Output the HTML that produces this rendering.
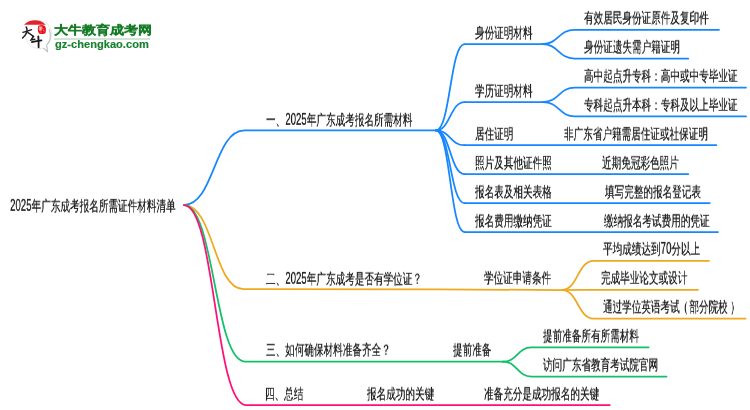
<!DOCTYPE html>
<html><head><meta charset="utf-8"><style>
html,body{margin:0;padding:0;background:#fff;width:750px;height:410px;overflow:hidden;position:relative}
.t{position:absolute;white-space:nowrap;font-family:"Liberation Sans",sans-serif;font-size:16px;line-height:20px;color:#222;font-weight:500;text-shadow:0.25px 0 0 #222;transform:scale(0.6,0.92);transform-origin:0 0;will-change:transform}
.d{display:inline-block;transform:scaleY(1.12);transform-origin:0 15.5px}
svg.lines{position:absolute;left:0;top:0}
svg.lines path{fill:none;stroke-width:1.75;stroke-linecap:round}
</style></head><body>
<svg class="lines" width="750" height="410" viewBox="0 0 750 410">
<path d="M542.5,44.1 C558.5,44.1 558.5,29.8 574.5,29.8 L719,29.8" stroke="#1787ff"/>
<path d="M542.5,44.1 C558.5,44.1 558.5,58.6 574.5,58.6 L688.3,58.6" stroke="#1787ff"/>
<path d="M543,102.0 C559.0,102.0 559.0,87.6 575,87.6 L746,87.6" stroke="#1787ff"/>
<path d="M543,102.0 C559.0,102.0 559.0,116.4 575,116.4 L746,116.4" stroke="#1787ff"/>
<path d="M464.5,44.1 L542.5,44.1" stroke="#1787ff"/>
<path d="M464.5,102.0 L543,102.0" stroke="#1787ff"/>
<path d="M464.5,145.2 L716.3,145.2" stroke="#1787ff"/>
<path d="M464.5,174.1 L688.3,174.1" stroke="#1787ff"/>
<path d="M464.5,203.0 L709.8,203.0" stroke="#1787ff"/>
<path d="M464.5,232.0 L718.0,232.0" stroke="#1787ff"/>
<path d="M436,130.4 C450.25,130.4 450.25,44.1 464.5,44.1" stroke="#1787ff"/>
<path d="M436,130.4 C450.25,130.4 450.25,102.0 464.5,102.0" stroke="#1787ff"/>
<path d="M436,130.4 C450.25,130.4 450.25,145.2 464.5,145.2" stroke="#1787ff"/>
<path d="M436,130.4 C450.25,130.4 450.25,174.1 464.5,174.1" stroke="#1787ff"/>
<path d="M436,130.4 C450.25,130.4 450.25,203.0 464.5,203.0" stroke="#1787ff"/>
<path d="M436,130.4 C450.25,130.4 450.25,232.0 464.5,232.0" stroke="#1787ff"/>
<path d="M184,205 C214.25,205 214.25,130.4 244.5,130.4 L436,130.4" stroke="#1787ff"/>
<path d="M562,290.0 C577.75,290.0 577.75,260.8 593.5,260.8 L709.0,260.8" stroke="#f0a81e"/>
<path d="M562,290.0 C577.75,290.0 577.75,289.8 593.5,289.8 L698.0,289.8" stroke="#f0a81e"/>
<path d="M562,290.0 C577.75,290.0 577.75,318.5 593.5,318.5 L745.6,318.5" stroke="#f0a81e"/>
<path d="M184,205 C213.75,205 213.75,289.1 243.5,289.1 L437,289.4 L562,290.0" stroke="#f0a81e"/>
<path d="M503,361.7 C517.25,361.7 517.25,347.4 531.5,347.4 L648.6,347.4" stroke="#12c06a"/>
<path d="M503,361.7 C517.25,361.7 517.25,376.5 531.5,376.5 L666.5,376.5" stroke="#12c06a"/>
<path d="M184,205 C214.5,205 214.5,361.5 245,361.5 L503,361.7" stroke="#12c06a"/>
<path d="M184,205 C215.0,205 215.0,405.1 246,405.1 L609.8,405.1" stroke="#ff1075"/>
</svg>
<div class="t" style="left:10.00px;top:196.80px"><span class="d">2025</span>年广东成考报名所需证件材料清单</div>
<div class="t" style="left:265.50px;top:110.70px">一、<span class="d">2025</span>年广东成考报名所需材料</div>
<div class="t" style="left:474.50px;top:23.60px">身份证明材料</div>
<div class="t" style="left:584.00px;top:9.30px">有效居民身份证原件及复印件</div>
<div class="t" style="left:584.00px;top:38.10px">身份证遗失需户籍证明</div>
<div class="t" style="left:474.50px;top:81.50px">学历证明材料</div>
<div class="t" style="left:583.90px;top:67.10px">高中起点升专科：高中或中专毕业证</div>
<div class="t" style="left:583.90px;top:95.90px">专科起点升本科：专科及以上毕业证</div>
<div class="t" style="left:475.20px;top:124.70px">居住证明</div>
<div class="t" style="left:564.20px;top:124.70px">非广东省户籍需居住证或社保证明</div>
<div class="t" style="left:475.20px;top:153.60px">照片及其他证件照</div>
<div class="t" style="left:602.00px;top:153.60px">近期免冠彩色照片</div>
<div class="t" style="left:475.20px;top:182.50px">报名表及相关表格</div>
<div class="t" style="left:604.90px;top:182.50px">填写完整的报名登记表</div>
<div class="t" style="left:475.20px;top:211.50px">报名费用缴纳凭证</div>
<div class="t" style="left:603.80px;top:211.50px">缴纳报名考试费用的凭证</div>
<div class="t" style="left:266.20px;top:269.90px">二、<span class="d">2025</span>年广东成考是否有学位证？</div>
<div class="t" style="left:483.50px;top:269.20px">学位证申请条件</div>
<div class="t" style="left:602.50px;top:240.30px">平均成绩达到<span class="d">70</span>分以上</div>
<div class="t" style="left:601.40px;top:269.30px">完成毕业论文或设计</div>
<div class="t" style="left:602.50px;top:298.00px">通过学位英语考试<span style="position:relative;left:-2px">（</span>部分院校<span style="position:relative;left:4px">）</span></div>
<div class="t" style="left:265.80px;top:341.00px">三、如何确保材料准备齐全？</div>
<div class="t" style="left:452.50px;top:341.00px">提前准备</div>
<div class="t" style="left:543.00px;top:326.90px">提前准备所有所需材料</div>
<div class="t" style="left:543.00px;top:356.00px">访问广东省教育考试院官网</div>
<div class="t" style="left:265.20px;top:384.60px">四、总结</div>
<div class="t" style="left:366.60px;top:384.60px">报名成功的关键</div>
<div class="t" style="left:484.40px;top:384.60px">准备充分是成功报名的关键</div>
<svg style="position:absolute;left:0;top:0" width="160" height="60" viewBox="0 0 160 60">
<path d="M35.6,20.6 A13.9,13.9 0 1 0 43.4,48.2 L47.6,51.8 L46.6,45.2 A13.9,13.9 0 0 0 35.6,20.6 Z" fill="#fff" stroke="#e2e2e2" stroke-width="0.8"/>
<path d="M48.9,29.2 A13.9,13.9 0 0 1 46.6,45.2 L47.6,51.8 L43.4,48.2" fill="none" stroke="#c2c2c2" stroke-width="1.1" stroke-linejoin="round"/>
<path d="M24,24.7 A15.7,15.7 0 0 1 45.8,24.7 Z" fill="#e3232b"/>
<path d="M38.2,26 Q40.5,24.8 43.2,25.2 Q45.6,25.6 45.8,28 Q46.2,31 45.4,33.2 Q42.5,34.4 39.6,33.9 Q37.9,33 37.8,30 Q37.7,27.4 38.2,26 Z" fill="#e8141c"/>
<path d="M39,26.6 Q41,25.8 42.2,26.4 Q42.4,29 41.6,30.8 Q40,31.2 38.8,30.2 Q38.6,28 39,26.6 Z" fill="#f58a8e"/>
<path d="M39.6,27.4 L40.8,28.6 M41.2,27 L40.2,29.8 M43.2,30.4 L44.4,31.2 M42.6,28.2 L43,29.2 M40.4,32 L41.4,32.6" stroke="#fff" stroke-width="0.55" fill="none"/>
<g fill="none" stroke="#1a1a1a" stroke-linecap="round">
<path d="M22.9,32.4 Q27.5,31 31.6,29.6" stroke-width="1.2"/>
<path d="M26.2,27 Q27.2,29 27.1,31.4 Q25.8,35.2 22.6,38" stroke-width="1.5"/>
<path d="M28,32.6 Q31,34.4 33.6,36.6" stroke-width="1.6"/>
<path d="M33.3,36.4 L31,40 L34.8,39.3" stroke-width="1.4"/>
<path d="M31.8,42.1 Q36.6,41.2 41.6,40.4" stroke-width="1.6"/>
<path d="M38.3,36.4 Q38.7,41.5 38.6,47.3" stroke-width="1.8"/>
</g>
</svg>
<div style="position:absolute;left:54.4px;top:21.9px;font-family:'Liberation Sans',sans-serif;font-size:13.7px;line-height:20px;font-weight:900;color:#137a25;white-space:nowrap;transform:scaleY(0.86);transform-origin:0 0;will-change:transform;-webkit-text-stroke:0.3px #137a25">大牛教育成考网</div>
<div style="position:absolute;left:54.4px;top:37.8px;width:95.6px;height:2px;background:#d3e3d7"></div>
<div style="position:absolute;left:55.3px;top:39px;font-family:'Liberation Sans',sans-serif;font-size:10.2px;line-height:12px;font-weight:700;color:#178030;white-space:nowrap;transform:scaleX(1.09);transform-origin:0 0;will-change:transform;-webkit-text-stroke:0.15px #178030">gz-chengkao.com</div>

</body></html>
